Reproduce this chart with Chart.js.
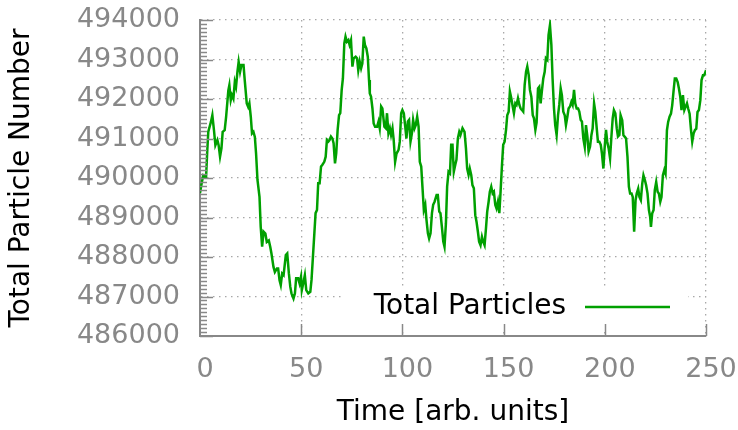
<!DOCTYPE html>
<html>
<head>
<meta charset="utf-8">
<script src="https://cdn.jsdelivr.net/npm/chart.js@4.4.0/dist/chart.umd.min.js"></script>
<style>
  html, body { margin: 0; padding: 0; background: #ffffff; }
  #wrap { width: 738px; height: 430px; }
</style>
</head>
<body>
<div id="wrap"><canvas id="c" width="738" height="430"></canvas></div>
<script>
const times = [0,0.8,1.6,3,3.6,4.1,5.4,6.1,6.9,7.6,8.6,9.2,9.9,10.6,11.2,12.2,12.9,14,14.5,15.2,15.8,16.5,17.2,17.8,18.5,19.1,19.8,20.5,21.5,22.1,23.1,23.8,24.4,25.1,25.7,26.4,27.1,27.7,28.4,29.4,30,30.7,31.4,32.3,33,34,34.7,35.3,36.3,37,38,38.6,39.3,39.9,40.6,41.3,
42.4,43.1,43.9,44.6,45.2,46.2,46.9,47.5,48.5,49.2,49.9,50.3,51,51.8,52.5,53.5,54.5,55.1,55.8,56.5,57.1,57.8,58.4,59.1,59.8,60.4,61.4,62.1,62.7,63.4,64,64.7,65.4,66,66.7,67.3,68,68.7,69.3,70,70.6,71.3,71.9,72.6,73.3,73.9,74.6,75.3,75.9,76.9,77.6,78.2,78.9,79.6,80.2,80.9,81.5,82.2,82.9,83.5,
83.9,84.5,85.2,85.8,86.5,87.5,88.2,88.8,89.5,90.1,91.1,91.8,92.4,93.1,93.8,94.4,95.1,95.7,96.4,97.1,98.1,98.7,99.4,100,100.7,101.4,102,102.7,103.3,104,104.7,105.3,106,106.6,107.3,108,108.6,109.3,109.9,110.6,111.3,111.9,112.6,113.2,113.9,114.6,115.2,115.9,116.9,117.5,118.2,118.8,119.5,120.2,120.8,121.5,122.1,122.8,123.5,124.1,124.75,125.4,
126.1,126.7,127.4,128.1,128.7,129.7,130.7,131.4,132,132.7,133.3,134,134.6,135.3,136,136.6,137.3,137.9,138.6,139.3,139.9,140.6,141.3,141.9,142.6,143.2,143.9,144.6,145.2,145.9,146.5,147.2,147.9,148.5,149.2,149.8,150.5,151.2,151.8,152.5,153.1,153.8,154.5,155.1,155.8,156.4,157.1,157.8,158.4,159.1,159.7,160.4,161.1,161.7,162.4,163,163.7,164.4,165,165.7,166.3,167,
167.6,168.3,168.9,169.6,170.3,170.9,171.6,172.2,172.9,173.6,174.2,174.9,175.5,176.2,176.9,177.5,178.2,178.8,179.5,180.2,180.8,181.5,182.1,182.8,183.5,184.1,184.8,185.4,186.1,186.8,187.4,188.1,188.7,189.4,190.1,190.7,191.4,192,192.7,193.4,194,194.7,195.3,196,196.6,197.3,198,198.6,199.3,199.9,200.6,201.2,201.9,202.6,203.2,203.9,204.5,205.2,205.9,206.5,207.2,207.8,
208.6,209.2,209.9,210.5,211.2,211.9,212.5,213.2,213.8,214.5,215.2,215.8,216.5,217.1,217.8,218.5,219.1,219.8,220.4,221.1,221.8,222.4,222.8,223.4,224.1,224.7,225.4,226.1,226.7,227.4,228,228.7,229.4,230,230.7,231.3,232,232.7,233.3,234,234.6,235.3,236,236.6,237.3,237.9,238.6,239.3,239.9,240.6,241.2,241.9,242.6,243.2,243.9,244.5,245.2,245.8,246.5,247.2,247.8,248.5,249.1,249.8,250];

const particles = [489620,489860,490070,490030,490700,491170,491420,491590,491210,490830,490960,490830,490540,490750,491170,491210,491550,492220,492350,491970,492100,492010,492430,492310,492690,492940,492690,492860,492860,492480,491890,491800,491890,491550,491130,491170,491040,490620,489950,489520,488760,488260,488640,488590,488380,488420,488260,488090,487750,487620,487710,487710,487410,487290,487580,487540,
488050,488090,487590,487250,487080,486950,487080,487460,487460,487330,487500,487160,487330,487540,487160,487080,487120,487420,488010,488600,489110,489190,489870,489870,490290,490330,490410,490540,490960,490920,490960,491050,491000,490880,490370,490620,491220,491590,491640,492230,492520,493410,493580,493450,493490,493370,493490,492820,493030,493070,493030,492730,492950,492780,492900,493580,493370,493280,493070,492480,
492140,492060,491760,491380,491300,491300,491430,491260,491810,491760,491300,491260,491640,491130,491260,491090,491260,490960,490410,490620,490710,490920,491640,491720,491640,491300,491000,491430,491470,490920,491130,491470,491260,491340,491550,491300,490410,490290,489780,489190,489320,488940,488600,488470,488600,489110,489320,489400,489570,489570,489150,489110,488770,488390,488260,488850,489780,490160,490120,490840,490840,490160,
490330,490460,491000,491170,491090,491260,491170,490750,490240,490080,490240,490080,489820,489740,489060,488900,488640,488390,488300,488510,488390,488300,488730,489150,489400,489650,489780,489610,489650,489320,489230,489400,489110,489650,490330,490840,490920,491220,491590,491680,492190,492020,491810,491640,491890,491850,492020,491850,491760,491720,491680,492350,492690,492820,492610,492230,492060,491590,491510,491220,491400,492270,
492310,491890,492190,492520,492690,493030,492990,493620,493870,493370,492520,491760,491340,491090,491590,491850,492270,492100,491680,491590,491340,491550,491760,491810,491930,491850,492230,491890,491760,491760,491680,491470,491430,491000,490790,491340,491050,490670,490790,491090,491260,491890,491680,491260,490920,490920,490840,490620,490240,490750,491220,490920,490750,490500,491000,491510,491720,491640,491260,491050,491090,491590,
491460,491080,491040,491000,490540,489780,489610,489610,489520,488640,489440,489610,489730,489520,489440,489860,490070,489950,489820,489610,489190,489020,488760,489100,489190,489690,489900,489650,489610,489400,489520,490070,490200,490110,491210,491420,491550,491630,491840,492220,492520,492520,492430,492270,492050,491720,492100,491720,491800,491890,491760,491630,491210,490920,491130,491210,491250,491670,491720,491970,492480,492600,492600,492690,492730];

const xTicks = [0, 50, 100, 150, 200, 250];
const yTicks = [486000, 487000, 488000, 489000, 490000, 491000, 492000, 493000, 494000];
const seriesName = 'Total Particles';
const xTitle = 'Time [arb. units]';
const yTitle = 'Total Particle Number';

const FONT = "'DejaVu Sans', sans-serif";
const GRAY = '#888888';
const GREEN = '#00a000';

const points = times.map((t, i) => ({ x: t, y: particles[i] }));

const decor = {
  id: 'decor',
  beforeDatasetsDraw(chart) {
    const ctx = chart.ctx;
    const a = chart.chartArea;
    ctx.save();
    ctx.fillStyle = '#ffffff';
    ctx.fillRect(a.right - 362, a.bottom - 49, 344, 43);
    ctx.restore();
  },
  afterDraw(chart) {
    const ctx = chart.ctx;
    const a = chart.chartArea;
    const xs = chart.scales.x, ys = chart.scales.y;
    ctx.save();
    ctx.strokeStyle = GRAY;
    ctx.lineWidth = 1.5;
    for (let v = yTicks[0]; v <= yTicks[yTicks.length - 1]; v += 100) {
      const py = Math.round(ys.getPixelForValue(v)) + 0.5;
      const len = (v % 1000 === 0) ? 13 : 7;
      ctx.beginPath();
      ctx.moveTo(a.left, py);
      ctx.lineTo(a.left + len, py);
      ctx.stroke();
    }
    xTicks.forEach(t => {
      if (t === 0) return;
      const px = Math.round(xs.getPixelForValue(t)) + 0.5;
      ctx.beginPath();
      ctx.moveTo(px, a.bottom);
      ctx.lineTo(px, a.bottom - 12);
      ctx.stroke();
    });
    const ky = a.bottom - 29;
    ctx.fillStyle = '#000000';
    ctx.font = "28px " + FONT;
    ctx.textAlign = 'right';
    ctx.textBaseline = 'middle';
    ctx.fillText(seriesName, a.right - 140, ky);
    ctx.strokeStyle = GREEN;
    ctx.lineWidth = 2.5;
    ctx.beginPath();
    ctx.moveTo(a.right - 121, ky);
    ctx.lineTo(a.right - 36, ky);
    ctx.stroke();
    ctx.restore();
  }
};

new Chart(document.getElementById('c'), {
  type: 'scatter',
  data: {
    datasets: [{
      label: seriesName,
      data: points,
      showLine: true,
      borderColor: GREEN,
      backgroundColor: GREEN,
      borderWidth: 2.5,
      pointRadius: 0,
      tension: 0,
      fill: false
    }]
  },
  options: {
    responsive: false,
    animation: false,
    devicePixelRatio: 1,
    layout: { padding: { left: 0, right: 32, top: 20, bottom: 0 } },
    plugins: { legend: { display: false }, tooltip: { enabled: false } },
    scales: {
      x: {
        type: 'linear',
        min: 0, max: 250,
        afterFit(s) { s.height = 94; s.paddingLeft = 0; s.paddingRight = 0; },
        afterBuildTicks(s) { s.ticks = xTicks.map(v => ({ value: v })); },
        ticks: {
          color: GRAY,
          font: { family: FONT, size: 27 },
          padding: 18,
          labelOffset: 5,
          maxRotation: 0,
          callback: v => String(v)
        },
        grid: { color: '#a8a8a8', lineWidth: 1.3, drawTicks: false, tickLength: 0 },
        border: { display: true, color: GRAY, width: 2, dash: [1.5, 4.5] },
        title: { display: true, text: xTitle, color: '#000000', font: { family: FONT, size: 28 }, padding: { top: 0, bottom: 0 } }
      },
      y: {
        type: 'linear',
        min: 486000, max: 494000,
        afterFit(s) { s.width = 200; s.paddingTop = 0; s.paddingBottom = 0; },
        afterBuildTicks(s) { s.ticks = yTicks.map(v => ({ value: v })); },
        ticks: {
          color: GRAY,
          font: { family: FONT, size: 27 },
          padding: 20,
          callback: v => String(v)
        },
        grid: { color: '#a8a8a8', lineWidth: 1.3, drawTicks: false, tickLength: 0 },
        border: { display: true, color: GRAY, width: 2, dash: [1.5, 4.5] },
        title: { display: true, text: yTitle, color: '#000000', font: { family: FONT, size: 28 }, padding: { top: 5, bottom: 0 } }
      }
    }
  },
  plugins: [decor]
});
</script>
</body>
</html>
